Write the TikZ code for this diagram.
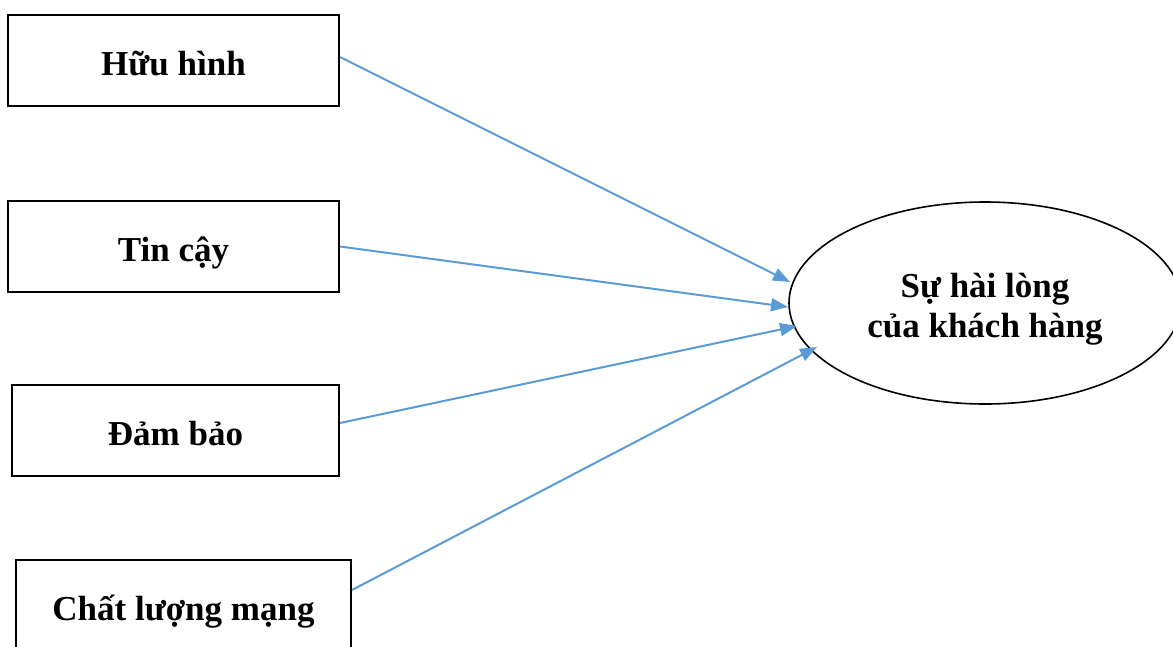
\documentclass[tikz,border=0pt]{standalone}
\usepackage{fontspec}
\setmainfont{Liberation Serif}
\usetikzlibrary{arrows.meta,shapes.geometric}
\definecolor{linkblue}{RGB}{91,155,213}
\begin{document}
\begin{tikzpicture}[x=1pt,y=-1pt,
  factor/.style={draw=black,line width=2pt,rectangle,minimum height=91pt,
    inner sep=0pt,text height=29pt,text depth=0pt,
    font=\fontsize{35}{40}\selectfont\bfseries},
  outcome/.style={draw=black,line width=1.6pt,ellipse,minimum width=392pt,
    minimum height=202pt,inner sep=0pt,align=center,
    text height=72pt,text depth=4pt,
    font=\fontsize{35}{40}\selectfont\bfseries},
  link/.style={draw=linkblue,line width=2pt,
    -{Triangle[length=17pt,width=13pt]}}]
\clip (0,0) rectangle (1173,646);
\fill[white] (0,0) rectangle (1173,646);

\node[factor,minimum width=331pt] (huuhinh) at (173.5,60.5) {Hữu hình};
\node[factor,minimum width=331pt] (tincay) at (173.5,246.5) {Tin cậy};
\node[factor,minimum width=327pt] (dambao) at (175.5,430.5) {Đảm bảo};
\node[factor,minimum width=335pt] (chatluong) at (183.5,605.5) {Chất lượng mạng};

\node[outcome] (hailong) at (985,303) {Sự hài lòng\\của khách hàng};

\coordinate (t1) at (790,282);
\coordinate (t2) at (788,307);
\coordinate (t3) at (797,326);
\coordinate (t4) at (817,347);

\draw[link] ([yshift=3.5pt]huuhinh.east) -- (t1);
\draw[link] (tincay.east) -- (t2);
\draw[link] ([yshift=7.5pt]dambao.east) -- (t3);
\draw[link] ([yshift=15.5pt]chatluong.east) -- (t4);
\end{tikzpicture}
\end{document}
